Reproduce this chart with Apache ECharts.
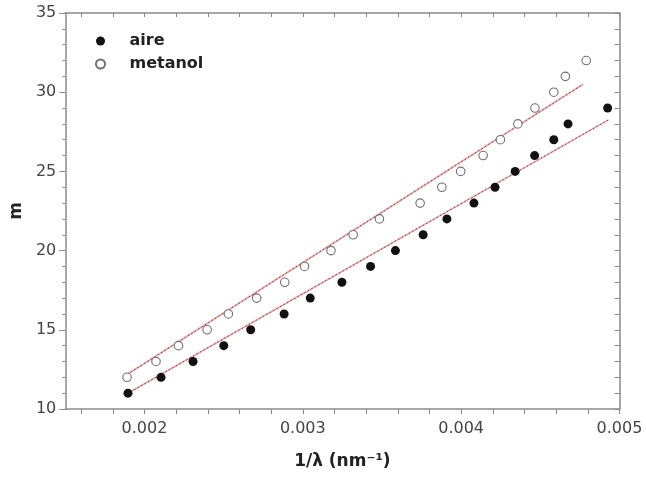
<!DOCTYPE html>
<html>
<head>
<meta charset="utf-8">
<script src="https://cdn.jsdelivr.net/npm/echarts@6/dist/echarts.min.js"></script>
<style>
  html, body { margin: 0; padding: 0; background: #fff; }
  #chart { width: 646px; height: 477px; }
</style>
</head>
<body>
<div id="chart"></div>
<script>
// Fringe order m against inverse wavelength, in air and in methanol
const aireX = [0.001896, 0.002105, 0.002307, 0.002501, 0.002671, 0.002882, 0.003047,
  0.003247, 0.003428, 0.003585, 0.00376, 0.00391, 0.004081, 0.004214, 0.004341,
  0.004464, 0.004585, 0.004675, 0.004925];
const aireM = [11, 12, 13, 14, 15, 16, 17, 18, 19, 20, 21, 22, 23, 24, 25, 26, 27, 28, 29];

const metanolX = [0.00189, 0.002073, 0.002215, 0.002396, 0.00253, 0.002709, 0.002886,
  0.003011, 0.003178, 0.003318, 0.003484, 0.003741, 0.003878, 0.003997, 0.004139,
  0.004248, 0.004358, 0.004466, 0.004585, 0.004658, 0.00479];
const metanolM = [12, 13, 14, 15, 16, 17, 18, 19, 20, 21, 22, 23, 24, 25, 26, 27, 28, 29, 30, 31, 32];

// Straight-line fits, given by their end points
const aireFitX = [0.00189, 0.00493];
const aireFitM = [10.96, 28.25];
const metanolFitX = [0.00187, 0.00477];
const metanolFitM = [12.05, 30.5];

// Axis ticks
const xTickLabels = [0.002, 0.003, 0.004, 0.005];
const xTicks = [];
for (let k = 16; k <= 50; k += 2) xTicks.push(k / 10000);

const pairs = (xs, ys) => xs.map((x, i) => [x, ys[i]]);

const font = 'DejaVu Sans';
const axisGrey = '#8a8a8a';

const fitLayers = (name, xs, ys) => [
  {
    name: name + '-fit', type: 'line', data: pairs(xs, ys), symbol: 'none', z: 1,
    lineStyle: { color: '#eea3a3', width: 1.6 }, silent: true
  },
  {
    name: name + '-fit-dots', type: 'line', data: pairs(xs, ys), symbol: 'none', z: 2,
    lineStyle: { color: '#8c3a3a', width: 1, type: [1.5, 2.5] }, silent: true
  }
];

const chart = echarts.init(document.getElementById('chart'), null, { renderer: 'canvas' });

chart.setOption({
  animation: false,
  backgroundColor: '#fff',
  grid: { left: 60, right: 26.5, top: 13, bottom: 68 },
  legend: {
    data: ['aire', 'metanol'],
    orient: 'vertical',
    left: 90, top: 28,
    itemWidth: 48, itemHeight: 9, itemGap: 7,
    textStyle: { fontFamily: font, fontSize: 16, fontWeight: 'bold', color: '#222', padding: [0, 0, 0, 0] }
  },
  xAxis: [
    {
      type: 'value', position: 'bottom', min: 0.0015, max: 0.005,
      name: '1/λ (nm⁻¹)', nameLocation: 'middle', nameGap: 44,
      nameTextStyle: { fontFamily: font, fontSize: 17, fontWeight: 'bold', color: '#222' },
      axisLine: { show: true, onZero: false, lineStyle: { color: axisGrey, width: 1.5 } },
      axisTick: { show: true, customValues: xTicks, length: 5, lineStyle: { color: axisGrey } },
      axisLabel: {
        customValues: xTickLabels, margin: 12,
        formatter: v => v.toFixed(3),
        fontFamily: font, fontSize: 16, color: '#444'
      },
      splitLine: { show: false }
    },
    {
      type: 'value', position: 'top', min: 0.0015, max: 0.005,
      axisLine: { show: true, onZero: false, lineStyle: { color: axisGrey, width: 1.5 } },
      axisTick: { show: true, inside: true, customValues: xTicks, length: 4, lineStyle: { color: axisGrey } },
      axisLabel: { show: false },
      splitLine: { show: false }
    }
  ],
  yAxis: [
    {
      type: 'value', position: 'left', min: 10, max: 35, interval: 5,
      name: 'm', nameLocation: 'middle', nameGap: 40, nameRotate: 90,
      nameTextStyle: { fontFamily: font, fontSize: 17, fontWeight: 'bold', color: '#222' },
      axisLine: { show: true, onZero: false, lineStyle: { color: axisGrey, width: 1.5 } },
      axisTick: { show: true, length: 6, lineStyle: { color: axisGrey } },
      minorTick: { show: true, splitNumber: 5, length: 3, lineStyle: { color: axisGrey } },
      axisLabel: { margin: 9, fontFamily: font, fontSize: 16, color: '#444' },
      splitLine: { show: false }, minorSplitLine: { show: false }
    },
    {
      type: 'value', position: 'right', min: 10, max: 35, interval: 1,
      axisLine: { show: true, onZero: false, lineStyle: { color: axisGrey, width: 1.5 } },
      axisTick: { show: true, inside: true, length: 5, lineStyle: { color: axisGrey } },
      axisLabel: { show: false },
      splitLine: { show: false }
    }
  ],
  series: [
    ...fitLayers('aire', aireFitX, aireFitM),
    ...fitLayers('metanol', metanolFitX, metanolFitM),
    {
      name: 'aire', type: 'scatter', data: pairs(aireX, aireM), z: 5,
      symbol: 'circle', symbolSize: 9,
      itemStyle: { color: '#111', opacity: 1 }
    },
    {
      name: 'metanol', type: 'scatter', data: pairs(metanolX, metanolM), z: 5,
      symbol: 'circle', symbolSize: 8.5,
      itemStyle: { color: '#fff', borderColor: '#707070', borderWidth: 1.1, opacity: 1 }
    }
  ]
});
</script>
</body>
</html>
